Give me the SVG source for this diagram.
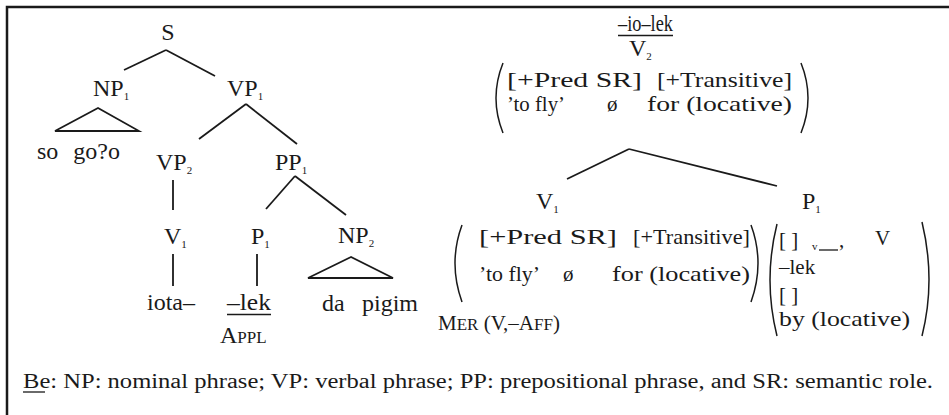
<svg xmlns="http://www.w3.org/2000/svg" width="949" height="415" viewBox="0 0 949 415">
<style>
text{font-family:"Liberation Serif","Tinos","Noto Serif","DejaVu Serif","Times New Roman",Times,serif;font-size:24px;fill:#1a1a1a}
.arr{font-size:21px}
.sub{font-size:11px}
.sc{font-size:17px}
.note{font-size:20px}
.edge{stroke:#1a1a1a;stroke-width:1.8;fill:none}
.par{stroke:#1a1a1a;stroke-width:1.5;fill:none}
.frame{stroke:#1a1a1a;stroke-width:2.5;fill:none}
.ul{stroke:#1a1a1a;stroke-width:1.3}
</style>
<rect width="949" height="415" fill="#ffffff"/>
<path class="frame" d="M949,7 H7 V415"/>

<g id="connectors">
  <line class="edge" x1="166" y1="50" x2="124" y2="70"/>
  <line class="edge" x1="166" y1="50" x2="215" y2="76"/>
  <polygon class="edge" points="98,108 55,131 139,131"/>
  <line class="edge" x1="246" y1="104" x2="199" y2="139"/>
  <line class="edge" x1="246" y1="104" x2="297" y2="144"/>
  <line class="edge" x1="173" y1="180" x2="173" y2="210"/>
  <line class="edge" x1="173" y1="254" x2="173" y2="286"/>
  <line class="edge" x1="295" y1="176" x2="266" y2="209"/>
  <line class="edge" x1="295" y1="176" x2="346" y2="215"/>
  <line class="edge" x1="257" y1="254" x2="257" y2="286"/>
  <polygon class="edge" points="351,257 308,278 393,278"/>
  <line class="edge" x1="629" y1="149" x2="567" y2="179"/>
  <line class="edge" x1="629" y1="149" x2="777" y2="186"/>
</g>

<g id="S"><text x="168" y="40" text-anchor="middle">S</text></g>
<g id="NP1"><text x="93" y="96">NP<tspan class="sub" dy="4">1</tspan></text></g>
<g id="VP1"><text x="227" y="96">VP<tspan class="sub" dy="4">1</tspan></text></g>
<g id="so-go"><text x="37" y="159">so</text><text x="120" y="159" text-anchor="end">go?o</text></g>
<g id="VP2"><text x="156" y="170">VP<tspan class="sub" dy="4">2</tspan></text></g>
<g id="PP1"><text x="275" y="170">PP<tspan class="sub" dy="4">1</tspan></text></g>
<g id="V1-left"><text x="164" y="244">V<tspan class="sub" dy="4">1</tspan></text></g>
<g id="P1-left"><text x="251" y="244">P<tspan class="sub" dy="4">1</tspan></text></g>
<g id="NP2"><text x="338" y="243">NP<tspan class="sub" dy="4">2</tspan></text></g>
<g id="iota"><text x="147" y="310">iota–</text></g>
<g id="lek-left">
  <text x="227" y="310" textLength="44" lengthAdjust="spacingAndGlyphs">–lek</text>
  <line class="ul" x1="227" y1="314.5" x2="271" y2="314.5"/>
  <text x="220" y="343">A<tspan class="sc">PPL</tspan></text>
</g>
<g id="da-pigim"><text x="322" y="311">da</text><text x="418" y="311" text-anchor="end">pigim</text></g>

<g id="V2">
  <text x="618" y="31" textLength="55" lengthAdjust="spacingAndGlyphs">–io–lek</text>
  <line class="ul" x1="618" y1="35.5" x2="673" y2="35.5"/>
  <text x="629" y="56">V<tspan class="sub" dy="4">2</tspan></text>
  <path class="par" d="M503,63 Q489,98 503,133"/>
  <path class="par" d="M801,63 Q815,98 801,133"/>
  <text class="arr" x="507" y="87" textLength="135" lengthAdjust="spacingAndGlyphs">[+Pred  SR]</text>
  <text class="arr" x="657" y="87" textLength="135" lengthAdjust="spacingAndGlyphs">[+Transitive]</text>
  <text class="arr" x="507" y="111" textLength="58" lengthAdjust="spacingAndGlyphs">’to  fly’</text>
  <text class="arr" x="607" y="111">ø</text>
  <text class="arr" x="647" y="111" textLength="145" lengthAdjust="spacingAndGlyphs">for  (locative)</text>
</g>

<g id="V1-right">
  <text x="536" y="209">V<tspan class="sub" dy="4">1</tspan></text>
  <path class="par" d="M462,225 Q448,263 462,302"/>
  <path class="par" d="M751,225 Q765,263 751,302"/>
  <text class="arr" x="479" y="244" textLength="138" lengthAdjust="spacingAndGlyphs">[+Pred  SR]</text>
  <text class="arr" x="633" y="244" textLength="117" lengthAdjust="spacingAndGlyphs">[+Transitive]</text>
  <text class="arr" x="479" y="281" textLength="61" lengthAdjust="spacingAndGlyphs">’to  fly’</text>
  <text class="arr" x="563" y="281">ø</text>
  <text class="arr" x="612" y="281" textLength="138" lengthAdjust="spacingAndGlyphs">for  (locative)</text>
  <text class="arr" x="438" y="330">M<tspan class="sc">ER</tspan>  (V,–A<tspan class="sc">FF</tspan>)</text>
</g>

<g id="P1-right">
  <text x="802" y="209">P<tspan class="sub" dy="4">1</tspan></text>
  <path class="par" d="M777,224 Q763,280 777,336"/>
  <path class="par" d="M922,222 Q936,280 922,336"/>
  <text class="arr" x="779" y="247">[  ]</text>
  <text x="812" y="250" class="sub">v</text>
  <line class="ul" x1="819" y1="250" x2="838" y2="250"/>
  <text class="arr" x="839" y="247">,</text>
  <text class="arr" x="875" y="245">V</text>
  <text class="arr" x="779" y="274">–lek</text>
  <text class="arr" x="779" y="302">[  ]</text>
  <text class="arr" x="779" y="326" textLength="131" lengthAdjust="spacingAndGlyphs">by  (locative)</text>
</g>

<g id="note">
  <text class="note" x="23" y="388" textLength="910" lengthAdjust="spacingAndGlyphs">Be: NP: nominal phrase; VP: verbal phrase; PP: prepositional phrase, and SR: semantic role.</text>
  <line class="ul" x1="23" y1="392" x2="45" y2="392"/>
</g>
</svg>
